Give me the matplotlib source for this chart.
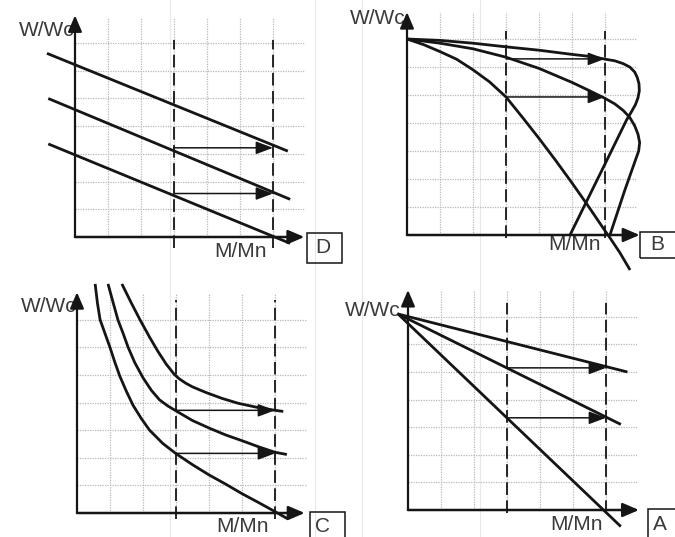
import matplotlib
matplotlib.use("Agg")
import matplotlib.pyplot as plt
from matplotlib.patches import Rectangle
from matplotlib.lines import Line2D

# ---------------- data (grid units: x = M/Mn, y = W/Wc) ----------------
# Panel D : three parallel straight lines
d_top_x = [-0.85, 6.45]
d_top_y = [6.63, 3.10]
d_mid_x = [-0.81, 6.52]
d_mid_y = [5.00, 1.36]
d_low_x = [-0.81, 6.52]
d_low_y = [3.36, -0.23]
d_arrow_y = [3.22, 1.57]

# Panel B : curves with a breakdown "nose"
b_c1_x = [0.0, 0.5, 1.0, 1.5, 2.0, 2.5, 3.0, 3.5, 4.0, 4.5, 5.0, 5.5, 6.0, 6.15, 6.45, 6.76]
b_c1_y = [7.0, 6.8, 6.55, 6.28, 5.9, 5.47, 4.93, 4.2, 3.45, 2.67, 1.86, 1.02, 0.15, -0.1, -0.63, -1.25]
b_c2_x = [0.0, 1.0, 2.0, 3.0, 4.0, 5.0, 5.5, 6.0, 6.3, 6.55, 6.75, 6.9, 7.0, 7.05, 7.02, 6.93, 6.6, 6.15]
b_c2_y = [7.0, 6.85, 6.65, 6.35, 5.95, 5.45, 5.17, 4.88, 4.68, 4.45, 4.2, 3.9, 3.6, 3.3, 3.0, 2.7, 1.6, 0.0]
b_c3_x = [0.0, 1.0, 2.0, 3.0, 4.0, 5.0, 5.6, 6.0, 6.3, 6.55, 6.75, 6.9, 6.98, 7.03, 7.04, 7.0, 6.92, 6.8, 6.65, 6.06, 4.94]
b_c3_y = [7.0, 6.95, 6.85, 6.72, 6.6, 6.45, 6.37, 6.28, 6.22, 6.12, 6.0, 5.82, 5.62, 5.4, 5.15, 4.9, 4.65, 4.4, 4.1, 2.68, 0.0]
b_arrow_y = [6.29, 4.93]

# Panel C : hyperbolic curves
c_low_x = [0.55, 0.62, 0.7, 0.85, 1.0, 1.15, 1.3, 1.5, 1.7, 1.95, 2.2, 2.6, 3.0, 3.5, 4.0, 4.5, 5.0, 5.5, 6.0, 6.4]
c_low_y = [8.3, 7.6, 7.0, 6.5, 6.0, 5.45, 4.95, 4.4, 3.9, 3.42, 3.0, 2.52, 2.15, 1.75, 1.38, 1.05, 0.7, 0.38, 0.05, -0.22]
c_mid_x = [0.94, 1.1, 1.24, 1.4, 1.55, 1.75, 2.0, 2.25, 2.5, 2.75, 3.0, 3.5, 4.0, 4.5, 5.0, 5.5, 6.0, 6.36]
c_mid_y = [8.3, 7.6, 7.0, 6.5, 6.0, 5.45, 4.9, 4.45, 4.1, 3.88, 3.7, 3.35, 3.08, 2.83, 2.62, 2.4, 2.2, 2.12]
c_up_x = [1.36, 1.65, 1.91, 2.2, 2.45, 2.7, 2.95, 3.1, 3.3, 3.5, 3.9, 4.4, 4.9, 5.45, 6.0, 6.25]
c_up_y = [8.3, 7.6, 7.0, 6.37, 5.86, 5.4, 5.02, 4.86, 4.7, 4.57, 4.37, 4.15, 3.97, 3.83, 3.72, 3.68]
c_arrow_y = [3.72, 2.16]

# Panel A : fan of straight lines from one point
a_start = (-0.3, 7.1)
a_end_x = [6.65, 6.45, 6.45]
a_end_y = [5.0, 3.1, -0.6]
a_arrow_y = [5.15, 3.34]

# dashed reference speeds
ref_x = [3, 6]
grid_x = [1, 2, 3, 4, 5, 6]
grid_y = [1, 2, 3, 4, 5, 6, 7]

# ---------------- layout ----------------
W, H = 675, 537
fig = plt.figure(figsize=(W / 100, H / 100), dpi=100)

INK = "#151515"
TXT = "#3a3a3a"
GRID = "#b8b8b8"
FS = 15

# faint scan lines (page/table borders)
for xp in [170, 315, 362, 480]:
    fig.add_artist(Line2D([xp / W, xp / W], [0, 1], color="#e8e8e8", lw=0.8, zorder=0))

panels = {
    "D": dict(box=(0, 337, 0, 268), origin=(75, 237), sx=33.0, sy=27.7),
    "B": dict(box=(337, 675, 0, 268), origin=(407, 235), sx=33.0, sy=28.0),
    "C": dict(box=(0, 337, 268, 537), origin=(77, 513), sx=33.0, sy=27.6),
    "A": dict(box=(337, 675, 268, 537), origin=(408, 510), sx=33.0, sy=27.6),
}


def make_ax(p):
    x0, x1, y0, y1 = p["box"]
    ox, oy = p["origin"]
    ax = fig.add_axes([x0 / W, 1 - y1 / H, (x1 - x0) / W, (y1 - y0) / H])
    ax.set_xlim((x0 - ox) / p["sx"], (x1 - ox) / p["sx"])
    ax.set_ylim((oy - y1) / p["sy"], (oy - y0) / p["sy"])
    ax.axis("off")
    return ax


def px(p, x, y):
    ox, oy = p["origin"]
    return (x - ox) / p["sx"], (oy - y) / p["sy"]


def frame(ax, p, ytop, xtip, dash_top, dash_bot, ylab_xy, xlab_xy, box, letter_xy, letter):
    for gx in grid_x:
        ax.plot([gx, gx], [0, 7.95], color=GRID, lw=0.9, ls=(0, (1, 1)), zorder=1)
    for gy in grid_y:
        ax.plot([0, 6.95], [gy, gy], color=GRID, lw=0.9, ls=(0, (1, 1)), zorder=1)
    for rx in ref_x:
        ax.plot([rx, rx], [dash_bot, dash_top], color=INK, lw=1.3,
                ls=(0, (7, 3)), zorder=2)
    ax.annotate("", xy=(0, ytop), xytext=(0, 0),
                arrowprops=dict(arrowstyle="-|>,head_length=0.7,head_width=0.3",
                                mutation_scale=14, lw=1.6, color=INK,
                                shrinkA=0, shrinkB=0), zorder=4)
    ax.annotate("", xy=(xtip, 0), xytext=(0, 0),
                arrowprops=dict(arrowstyle="-|>,head_length=0.7,head_width=0.3",
                                mutation_scale=14, lw=1.8, color=INK,
                                shrinkA=0, shrinkB=0), zorder=4)
    lx, ly = px(p, *ylab_xy)
    ax.text(lx, ly, "W/Wc", ha="right", va="center", fontsize=FS,
            family="Liberation Sans", color=TXT, zorder=3, clip_on=False)
    mx, my = px(p, *xlab_xy)
    ax.text(mx, my, "M/Mn", ha="center", va="center", fontsize=FS,
            family="Liberation Sans", color=TXT, zorder=3, clip_on=False)
    bx0, by0 = px(p, box[0], box[3])
    bx1, by1 = px(p, box[1], box[2])
    ax.add_patch(Rectangle((bx0, by0), bx1 - bx0, by1 - by0, fill=False,
                           ec=INK, lw=1.1, clip_on=False, zorder=3))
    tx, ty = px(p, *letter_xy)
    ax.text(tx, ty, letter, ha="center", va="center", fontsize=FS,
            family="Liberation Sans", color=TXT, clip_on=False, zorder=3)


def curve(ax, x, y):
    ax.plot(x, y, color=INK, lw=2.0, solid_joinstyle="round",
            solid_capstyle="butt", zorder=3, clip_on=False)


def harrow(ax, y):
    ax.annotate("", xy=(6, y), xytext=(3, y),
                arrowprops=dict(arrowstyle="-|>,head_length=0.8,head_width=0.3",
                                mutation_scale=13, lw=1.1, color=INK,
                                shrinkA=0, shrinkB=0), zorder=3)


# ---- D ----
p = panels["D"]
ax = make_ax(p)
frame(ax, p, 8.0, 6.95, 7.1, -0.4, (75, 30), (240, 252), (307, 342, 233, 263), (323, 248), "D")
for xs, ys in [(d_top_x, d_top_y), (d_mid_x, d_mid_y), (d_low_x, d_low_y)]:
    curve(ax, xs, ys)
for yv in d_arrow_y:
    harrow(ax, yv)

# ---- B ----
p = panels["B"]
ax = make_ax(p)
frame(ax, p, 7.96, 7.05, 7.3, -0.1, (406, 18), (575, 245), (640, 677, 232, 258), (657, 245), "B")
for xs, ys in [(b_c1_x, b_c1_y), (b_c2_x, b_c2_y), (b_c3_x, b_c3_y)]:
    curve(ax, xs, ys)
for yv in b_arrow_y:
    harrow(ax, yv)

# ---- C ----
p = panels["C"]
ax = make_ax(p)
frame(ax, p, 8.0, 6.9, 7.7, -0.2, (77, 306), (242, 526), (310, 345, 512, 545), (322, 527), "C")
for xs, ys in [(c_low_x, c_low_y), (c_mid_x, c_mid_y), (c_up_x, c_up_y)]:
    curve(ax, xs, ys)
for yv in c_arrow_y:
    harrow(ax, yv)

# ---- A ----
p = panels["A"]
ax = make_ax(p)
frame(ax, p, 7.97, 7.0, 7.5, -0.1, (401, 310), (577, 524), (648, 682, 509, 545), (660, 524), "A")
for ex, ey in zip(a_end_x, a_end_y):
    curve(ax, [a_start[0], ex], [a_start[1], ey])
for yv in a_arrow_y:
    harrow(ax, yv)

fig.savefig("out.png", dpi=100, facecolor="white")
